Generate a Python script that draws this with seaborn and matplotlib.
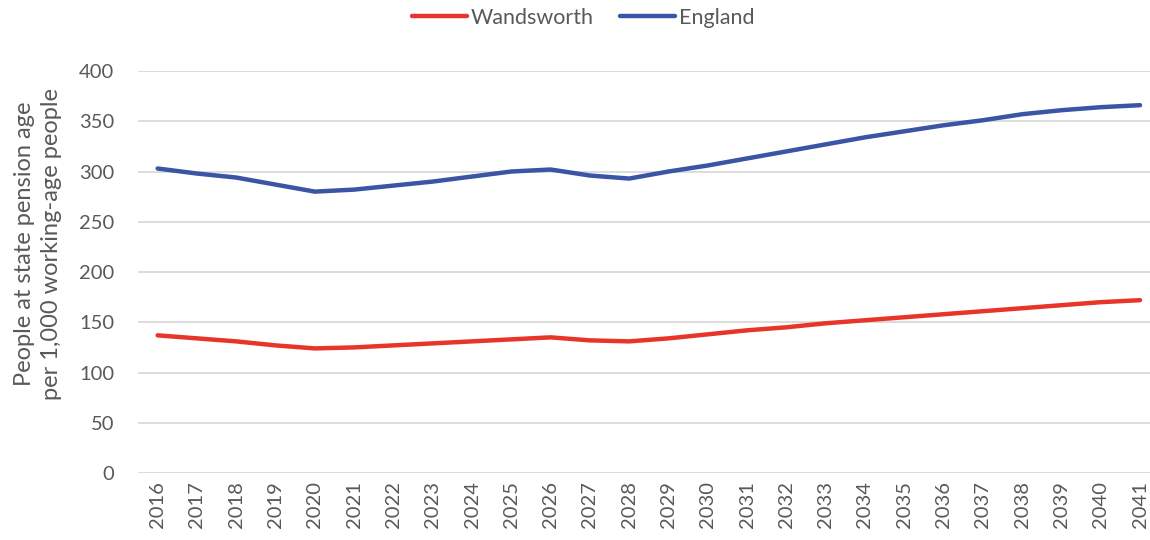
import matplotlib
matplotlib.use("Agg")
import matplotlib.pyplot as plt
import seaborn as sns
import pandas as pd

years = [str(y) for y in range(2016, 2042)]
wandsworth = [137, 134, 131, 127, 124, 125, 127, 129, 131, 133, 135, 132, 131,
              134, 138, 142, 145, 149, 152, 155, 158, 161, 164, 167, 170, 172]
england = [303, 298, 294, 287, 280, 282, 286, 290, 295, 300, 302, 296, 293,
           300, 306, 313, 320, 327, 334, 340, 346, 351, 357, 361, 364, 366]
series_names = ["Wandsworth", "England"]
colors = ["#E8352A", "#3B54A5"]
yticks = [0, 50, 100, 150, 200, 250, 300, 350, 400]

df = pd.concat([
    pd.DataFrame({"year": years, "value": wandsworth, "series": series_names[0]}),
    pd.DataFrame({"year": years, "value": england, "series": series_names[1]}),
])

sns.set_theme(style="white")
plt.rcParams["font.family"] = ["Lato", "DejaVu Sans"]
grey = "#595959"

fig = plt.figure(figsize=(11.5, 5.4), dpi=100)
ax = fig.add_axes([0.12, 0.124, 0.8884, 0.7445])
sns.lineplot(data=df, x="year", y="value", hue="series", palette=colors,
             hue_order=series_names, linewidth=3.2, ax=ax, legend=True,
             solid_capstyle="round")

ax.set_xlim(-0.5, len(years) - 0.5)
ax.set_ylim(0, 400)
ax.set_yticks(yticks)
ax.set_yticklabels([str(t) for t in yticks], fontsize=14.5, color=grey)
ax.tick_params(axis="x", labelrotation=90, labelsize=14.5, labelcolor=grey, length=0, pad=6)
ax.tick_params(axis="y", length=0, pad=17)
ax.grid(axis="y", color="#D9D9D9", linewidth=1.3)
ax.grid(axis="x", visible=False)
ax.set_axisbelow(True)
for s in ax.spines.values():
    s.set_visible(False)
ax.set_xlabel("")
ax.set_ylabel("People at state pension age\nper 1,000 working-age people",
              fontsize=17, color=grey, linespacing=1.35)
ax.yaxis.set_label_coords(-0.074, 0.57)

handles, labels = ax.get_legend_handles_labels()
ax.get_legend().remove()
leg = fig.legend(handles, labels, loc="center", bbox_to_anchor=(0.507, 0.967),
                 ncol=2, frameon=False, fontsize=15.5, handlelength=2.56,
                 handletextpad=0.15, columnspacing=1.25)
for t in leg.get_texts():
    t.set_color(grey)

fig.savefig("out.png", dpi=100)
